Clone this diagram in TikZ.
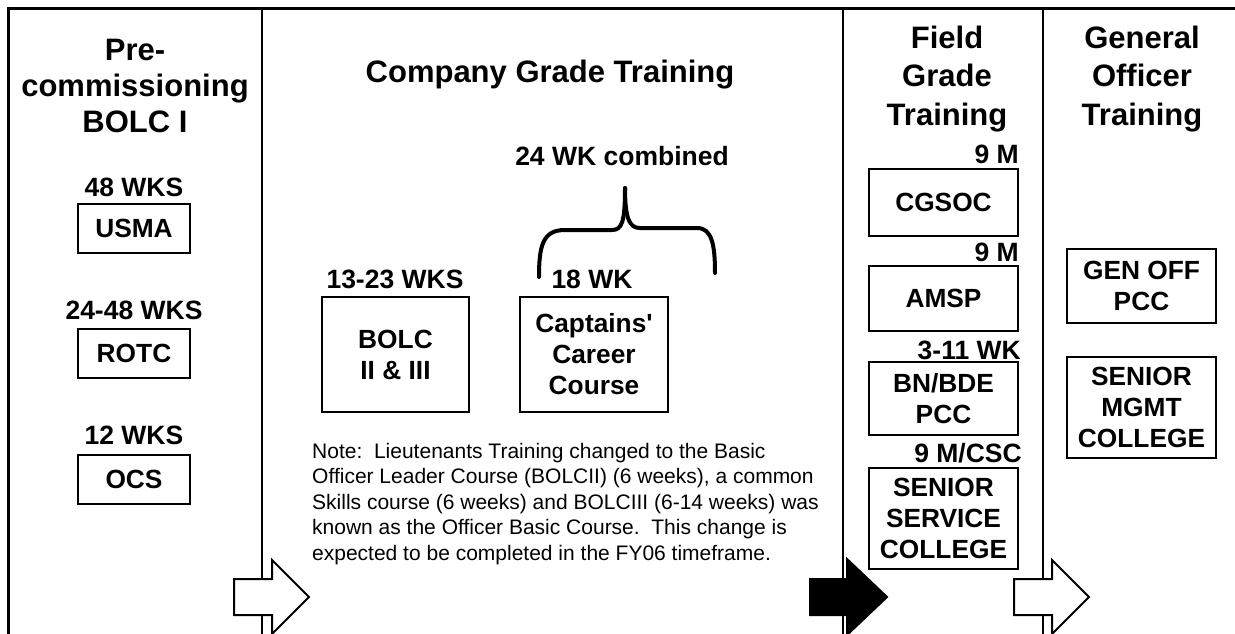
\documentclass[tikz,border=0pt]{standalone}
\usepackage{fontspec}
\setmainfont{Liberation Sans}
\begin{document}
\begin{tikzpicture}[x=1pt,y=-1pt,
  hd/.style={font=\fontsize{31}{38.5}\selectfont\bfseries, align=center, inner sep=0pt, anchor=north},
  lbl/.style={font=\fontsize{26.5}{31}\selectfont\bfseries, inner sep=0pt, anchor=base},
  rlbl/.style={font=\fontsize{26.5}{31}\selectfont\bfseries, inner sep=0pt, anchor=base east},
  box/.style={draw, line width=2pt, font=\fontsize{26.3}{31}\selectfont\bfseries, align=center, inner sep=0pt},
  frameline/.style={line width=2.6pt},
  divider/.style={line width=2.8pt},
  arrowshape/.style={draw, line width=2pt, line join=miter}
]
\useasboundingbox (0,0) rectangle (1235,634);
\clip (0,0) rectangle (1235,634);

% frame and dividers
\draw[frameline] (8.3,640) -- (8.3,8.6) -- (1240,8.6);
\draw[divider] (262,8.6) -- (262,640);
\draw[divider] (843,8.6) -- (843,640);
\draw[divider] (1043,8.6) -- (1043,640);

% headings
\node[hd, font=\fontsize{31}{36}\selectfont\bfseries] (hpre) at (135,38.8) {Pre-\\commissioning\\BOLC I};
\node[hd] (hcomp) at (550,59.8) {Company Grade Training};
\node[hd] (hfield) at (947,25.8) {Field\\Grade\\Training};
\node[hd] (hgen) at (1142,25.8) {General\\Officer\\Training};

% pre-commissioning
\node[lbl] (l48) at (134,196) {48 WKS};
\node[box, minimum width=112pt, minimum height=49pt] (usma) at (134,228.5) {USMA};
\node[lbl] (l2448) at (134,319) {24-48 WKS};
\node[box, minimum width=112pt, minimum height=49pt] (rotc) at (134,353.5) {ROTC};
\node[lbl] (l12) at (134,444) {12 WKS};
\node[box, minimum width=112pt, minimum height=49pt] (ocs) at (134,479.5) {OCS};

% company grade
\node[lbl] (l24) at (622,165) {24 WK combined};
\draw[line width=4pt, line cap=round]
  (539,277) .. controls (539,245) and (543,230) .. (565,230)
  -- (612,230) .. controls (622,230) and (625,222) .. (625,188);
\draw[line width=4pt, line cap=round]
  (625,188) .. controls (625,220) and (630,228) .. (640,228)
  -- (697,228) .. controls (712,228) and (715,245) .. (715,273);
\node[lbl] (l1323) at (395,288) {13-23 WKS};
\node[lbl] (l18) at (592,288) {18 WK};
\node[box, minimum width=147pt, minimum height=115pt] (bolc) at (395.5,354.5) {BOLC\\II \& III};
\node[box, minimum width=148pt, minimum height=115pt] (capt) at (594,354.5) {Captains\textquotesingle\\Career\\Course};
\node[font=\fontsize{21}{25.5}\selectfont, align=left, inner sep=0pt, anchor=north west] (note) at (312,443)
{Note:\ \ Lieutenants Training changed to the Basic\\
Officer Leader Course (BOLCII) (6 weeks), a common\\
Skills course (6 weeks) and BOLCIII (6-14 weeks) was\\
known as the Officer Basic Course.\ \ This change is\\
expected to be completed in the FY06 timeframe.};

% field grade
\node[rlbl] (l9a) at (1019,163) {9 M};
\node[box, minimum width=149pt, minimum height=67pt] (cgsoc) at (943.5,202.5) {CGSOC};
\node[rlbl] (l9b) at (1019,261) {9 M};
\node[box, minimum width=149pt, minimum height=65pt] (amsp) at (943.5,298.5) {AMSP};
\node[rlbl] (l311) at (1021,359) {3-11 WK};
\node[box, minimum width=149pt, minimum height=73pt] (bnbde) at (943.5,398.5) {BN/BDE\\PCC};
\node[rlbl] (l9c) at (1022,462) {9 M/CSC};
\node[box, minimum width=149pt, minimum height=101pt] (ssc) at (943.5,518.5) {SENIOR\\SERVICE\\COLLEGE};

% general officer
\node[box, minimum width=149pt, minimum height=74pt] (genoff) at (1141.5,286) {GEN OFF\\PCC};
\node[box, minimum width=149pt, minimum height=101pt] (smc) at (1141.5,407.5) {SENIOR\\MGMT\\COLLEGE};

% arrows
\draw[arrowshape, fill=white] (234,579) -- (272,579) -- (272,560) -- (309,597) -- (272,634) -- (272,615) -- (234,615) -- cycle;
\draw[arrowshape, fill=black] (810,579) -- (847,579) -- (847,559) -- (887,597) -- (847,635) -- (847,615) -- (810,615) -- cycle;
\draw[arrowshape, fill=white] (1014,579) -- (1052,579) -- (1052,560) -- (1089,597) -- (1052,634) -- (1052,615) -- (1014,615) -- cycle;
\end{tikzpicture}
\end{document}
